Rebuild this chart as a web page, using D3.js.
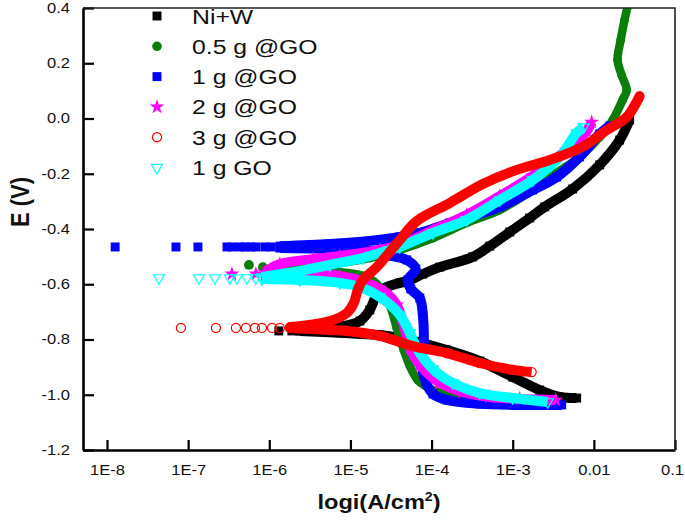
<!DOCTYPE html>
<html><head><meta charset="utf-8">
<script src="https://cdn.jsdelivr.net/npm/d3@7"></script>
<style>
body{margin:0;background:#fff}
svg{display:block}
text{font-family:"Liberation Sans",Arial,Helvetica,sans-serif;fill:#111}
</style>
</head><body><svg id="c" width="685" height="523"></svg>
<script>
// ---------- axis ticks ----------
const xTicks = [1e-8, 1e-7, 1e-6, 1e-5, 1e-4, 1e-3, 1e-2, 1e-1];
const xTickLabels = ["1E-8", "1E-7", "1E-6", "1E-5", "1E-4", "1E-3", "0.01", "0.1"];
const yTicks = [0.4, 0.2, 0.0, -0.2, -0.4, -0.6, -0.8, -1.0, -1.2];
const yTickLabels = ["0.4", "0.2", "0.0", "-0.2", "-0.4", "-0.6", "-0.8", "-1.0", "-1.2"];
const seriesNames = ["Ni+W", "0.5 g @GO", "1 g @GO", "2 g @GO", "3 g @GO", "1 g GO"];

// ---------- data: [current density i (A/cm2), potential E (V)] ----------
// Ni+W
const niwSparse = [[1.31e-6,-0.769],[1.90e-6,-0.769]];
const niwCathodic = [[2.38e-6,-0.769],[7.40e-6,-0.776],[2.30e-5,-0.784],[5.40e-5,-0.802],[1.54e-4,-0.838],[3.93e-4,-0.878],[1.00e-3,-0.936],[2.15e-3,-0.983],[3.79e-3,-1.008],[6.14e-3,-1.012]];
const niwAnodic = [[2.38e-6,-0.769],[4.20e-6,-0.766],[8.53e-6,-0.751],[1.31e-5,-0.733],[1.73e-5,-0.693],[2.06e-5,-0.646],[2.65e-5,-0.614],[4.06e-5,-0.595],[5.40e-5,-0.585],[7.80e-5,-0.563],[1.26e-4,-0.538],[3.21e-4,-0.501],[5.21e-4,-0.462],[9.18e-4,-0.411],[1.62e-3,-0.360],[2.48e-3,-0.320],[5.48e-3,-0.255],[1.18e-2,-0.168],[2.08e-2,-0.078],[2.76e-2,-0.005]];
// 0.5 g @GO
const go05Sparse = [[5.61e-7,-0.530],[8.34e-7,-0.538]];
const go05Anodic = [[1.17e-6,-0.534],[3.16e-6,-0.534],[7.40e-6,-0.523],[1.73e-5,-0.505],[4.06e-5,-0.476],[1.04e-4,-0.433],[2.71e-4,-0.378],[6.92e-4,-0.331],[1.76e-3,-0.259],[3.48e-3,-0.197],[6.68e-3,-0.139],[1.18e-2,-0.067],[1.71e-2,-0.005],[2.26e-2,0.067],[2.54e-2,0.103],[2.20e-2,0.157],[1.96e-2,0.212],[2.14e-2,0.284],[2.39e-2,0.357],[2.68e-2,0.42]];
const go05Cathodic = [[1.35e-6,-0.541],[3.44e-6,-0.548],[7.40e-6,-0.556],[1.59e-5,-0.574],[2.30e-5,-0.610],[3.05e-5,-0.675],[3.72e-5,-0.758],[4.55e-5,-0.838],[5.40e-5,-0.896],[6.76e-5,-0.947],[1.04e-4,-0.983],[2.22e-4,-1.008],[5.21e-4,-1.019],[1.22e-3,-1.030]];
// 1 g @GO
const go1Sparse = [[1.26e-8,-0.465],[7.08e-8,-0.465],[1.32e-7,-0.465],[3.01e-7,-0.465],[3.46e-7,-0.465],[4.35e-7,-0.465],[5.01e-7,-0.465],[5.93e-7,-0.465],[6.84e-7,-0.465],[8.83e-7,-0.465],[1.05e-6,-0.465]];
const go1Anodic = [[1.35e-6,-0.462],[5.57e-6,-0.454],[1.73e-5,-0.443],[4.06e-5,-0.429],[7.16e-5,-0.414],[1.67e-4,-0.378],[6.92e-4,-0.320],[1.76e-3,-0.259],[3.48e-3,-0.212],[6.68e-3,-0.139],[1.18e-2,-0.056],[1.57e-2,-0.027]];
const go1Cathodic = [[1.35e-6,-0.469],[5.57e-6,-0.472],[1.73e-5,-0.480],[3.33e-5,-0.498],[4.95e-5,-0.512],[6.38e-5,-0.545],[5.09e-5,-0.585],[5.55e-5,-0.617],[7.16e-5,-0.650],[7.80e-5,-0.711],[8.02e-5,-0.802],[7.57e-5,-0.881],[8.49e-5,-0.954],[1.04e-4,-0.997],[1.54e-4,-1.019],[3.93e-4,-1.033],[1.22e-3,-1.037],[4.01e-3,-1.037]];
// 2 g @GO
const go2Sparse = [[3.46e-7,-0.563],[6.84e-7,-0.563]];
const go2Anodic = [[8.83e-7,-0.556],[1.35e-6,-0.527],[3.44e-6,-0.509],[7.40e-6,-0.498],[2.30e-5,-0.476],[4.06e-5,-0.458],[1.04e-4,-0.404],[2.71e-4,-0.349],[6.92e-4,-0.281],[1.76e-3,-0.208],[4.62e-3,-0.114],[8.15e-3,-0.045],[9.40e-3,-0.013]];
const go2Cathodic = [[8.83e-7,-0.567],[3.44e-6,-0.563],[7.40e-6,-0.570],[1.59e-5,-0.595],[2.65e-5,-0.628],[3.72e-5,-0.675],[4.55e-5,-0.748],[5.40e-5,-0.831],[7.16e-5,-0.892],[1.26e-4,-0.957],[2.42e-4,-0.990],[5.21e-4,-1.008],[1.22e-3,-1.015],[3.39e-3,-1.019]];
// 3 g @GO
const go3Sparse = [[8.15e-8,-0.758],[2.20e-7,-0.758],[3.88e-7,-0.758],[5.15e-7,-0.758],[6.65e-7,-0.758],[8.11e-7,-0.758],[1.08e-6,-0.758],[1.35e-6,-0.758]];
const go3Anodic = [[1.80e-6,-0.755],[5.57e-6,-0.733],[9.03e-6,-0.704],[1.10e-5,-0.668],[1.23e-5,-0.621],[1.42e-5,-0.585],[2.11e-5,-0.538],[3.05e-5,-0.483],[4.06e-5,-0.440],[6.58e-5,-0.371],[1.67e-4,-0.306],[4.28e-4,-0.237],[1.12e-3,-0.186],[2.86e-3,-0.150],[7.28e-3,-0.103],[1.44e-2,-0.042],[2.54e-2,0.005],[3.37e-2,0.060],[3.66e-2,0.081]];
const go3Cathodic = [[1.80e-6,-0.758],[5.57e-6,-0.766],[9.03e-6,-0.769],[2.30e-5,-0.787],[5.86e-5,-0.824],[1.54e-4,-0.849],[3.93e-4,-0.885],[1.00e-3,-0.910],[1.71e-3,-0.918]];
// 1 g GO
const go1GOSparse = [[4.36e-8,-0.577],[1.36e-7,-0.577],[2.14e-7,-0.577],[3.27e-7,-0.577],[3.99e-7,-0.577],[5.30e-7,-0.577],[6.84e-7,-0.577]];
const go1GOAnodic = [[8.11e-7,-0.574],[2.38e-6,-0.552],[5.57e-6,-0.530],[1.42e-5,-0.505],[3.05e-5,-0.476],[4.06e-5,-0.465],[1.04e-4,-0.414],[2.71e-4,-0.367],[6.92e-4,-0.295],[1.76e-3,-0.223],[3.79e-3,-0.139],[6.14e-3,-0.052],[7.48e-3,-0.031]];
const go1GOCathodic = [[8.11e-7,-0.581],[2.38e-6,-0.585],[7.40e-6,-0.595],[1.31e-5,-0.610],[2.30e-5,-0.646],[4.06e-5,-0.711],[5.40e-5,-0.776],[6.76e-5,-0.838],[1.04e-4,-0.907],[1.82e-4,-0.957],[3.93e-4,-0.994],[1.00e-3,-1.012],[2.70e-3,-1.026]];

// ---------- layout ----------
const L = 83, R = 675, T = 8, B = 450;
const SX = 1.18; // horizontal text stretch of the original picture
const svg = d3.select("#c");
const x = d3.scaleLog().domain([5.06e-9, 0.1]).range([L, R]);
const y = d3.scaleLinear().domain([-1.2, 0.4]).range([B, T]);

svg.append("defs").append("clipPath").attr("id", "clip")
  .append("rect").attr("x", L).attr("y", T).attr("width", R - L).attr("height", B - T);

const series = [
  {name: seriesNames[0], color: "#000000", sym: "square",  hollow: false, w: 10, sparse: niwSparse,  branches: [niwCathodic, niwAnodic]},
  {name: seriesNames[1], color: "#0b7d0b", sym: "circle",  hollow: false, w: 8.5, sparse: go05Sparse, branches: [go05Cathodic, go05Anodic]},
  {name: seriesNames[2], color: "#0000ff", sym: "square",  hollow: false, w: 10, sparse: go1Sparse,  branches: [go1Cathodic, go1Anodic]},
  {name: seriesNames[3], color: "#ff00ff", sym: "star",    hollow: false, w: 10, sparse: go2Sparse,  branches: [go2Cathodic, go2Anodic]},
  {name: seriesNames[4], color: "#ff0000", sym: "circle",  hollow: true,  w: 10, sparse: go3Sparse,  branches: [go3Cathodic, go3Anodic], solidAnodic: true},
  {name: seriesNames[5], color: "#00ffff", sym: "triangle",hollow: true,  w: 10, sparse: go1GOSparse, branches: [go1GOCathodic, go1GOAnodic]}
];
const drawOrder = [0, 1, 2, 3, 5, 4];

function symPath(s, scale) {
  const k = scale || 1;
  if (s === "square") return d3.symbol().type(d3.symbolSquare).size(80 * k)();
  if (s === "circle") return d3.symbol().type(d3.symbolCircle).size(66 * k)();
  if (s === "star") return d3.symbol().type(d3.symbolStar).size(70 * k)();
  return d3.symbol().type(d3.symbolTriangle).size(52 * k)();
}
function drawMarker(g, s, px, py, k) {
  const p = g.append("path").attr("d", symPath(s.sym, k))
    .attr("transform", `translate(${px},${py})` + (s.sym === "triangle" ? " rotate(180)" : ""));
  if (s.hollow) p.attr("fill", "none").attr("stroke", s.color).attr("stroke-width", 1.2);
  else p.attr("fill", s.color);
}

// ---------- data layer ----------
const plot = svg.append("g").attr("clip-path", "url(#clip)");
const line = d3.line().x(d => x(d[0])).y(d => y(d[1])).curve(d3.curveCatmullRom.alpha(0.5));
drawOrder.forEach(i => {
  const s = series[i];
  const g = plot.append("g");
  s.branches.forEach((br, bi) => {
    const solid = s.solidAnodic && bi === 1;
    g.append("path").attr("d", line(br)).attr("fill", "none")
      .attr("stroke", s.color).attr("stroke-width", s.w)
      .attr("stroke-linejoin", "round").attr("stroke-linecap", solid ? "round" : "butt");
    if (!solid) br.forEach(d => drawMarker(g, s, x(d[0]), y(d[1]), s.sym === "circle" && !s.hollow ? 0.9 : 1));
  });
  s.sparse.forEach(d => drawMarker(g, s, x(d[0]), y(d[1]), s.sym === "circle" && !s.hollow ? 1.15 : 1));
});

// ---------- axes ----------
const xAxis = d3.axisBottom(x).tickValues(xTicks).tickFormat((d, i) => xTickLabels[i])
  .tickSize(-10).tickSizeOuter(0).tickPadding(15);
const yAxis = d3.axisLeft(y).tickValues(yTicks).tickFormat((d, i) => yTickLabels[i])
  .tickSize(-11).tickSizeOuter(0).tickPadding(11);

const gx = svg.append("g").attr("transform", `translate(0,${B})`).call(xAxis);
const gy = svg.append("g").attr("transform", `translate(${L},0)`).call(yAxis);
[gx, gy].forEach(g => {
  g.select(".domain").attr("stroke", "#000").attr("stroke-width", 2.6);
  g.selectAll(".tick line").attr("stroke", "#000").attr("stroke-width", 2.2);
  g.selectAll(".tick text").attr("font-size", 14).attr("fill", "#111")
    .attr("font-family", "'Liberation Sans', Arial, sans-serif")
    .attr("transform", `scale(${SX},1)`);
});
// keep the last x label inside the picture, as in the original
gx.selectAll(".tick text").filter((d, i) => i === xTicks.length - 1)
  .attr("transform", `translate(-3,0) scale(${SX},1)`);
// top & right frame
svg.append("path").attr("d", `M${L},${T}H${R}V${B}`).attr("fill", "none")
  .attr("stroke", "#222").attr("stroke-width", 1.6);

// ---------- titles ----------
const xt = svg.append("text").attr("transform", `translate(379,509) scale(${SX},1)`)
  .attr("text-anchor", "middle").attr("font-size", 20).attr("font-weight", "bold");
xt.append("tspan").text("logi(A/cm");
xt.append("tspan").text("2").attr("font-size", 12).attr("dy", -8);
xt.append("tspan").text(")").attr("dy", 8);

svg.append("text").attr("transform", `translate(29,202) rotate(-90) scale(1,${SX})`)
  .attr("text-anchor", "middle").attr("font-size", 22).attr("font-weight", "bold").text("E (V)");

// ---------- legend ----------
const legY0 = 16, legDy = 30.3;
const leg = svg.append("g");
series.forEach((s, i) => {
  const cy = legY0 + i * legDy;
  drawMarker(leg, s, 157, cy, s.sym === "circle" && !s.hollow ? 1.1 : 1);
  leg.append("text").attr("transform", `translate(192,${cy + 7.5}) scale(${SX},1)`)
    .attr("font-size", 21).text(s.name);
});
</script>
</body></html>
